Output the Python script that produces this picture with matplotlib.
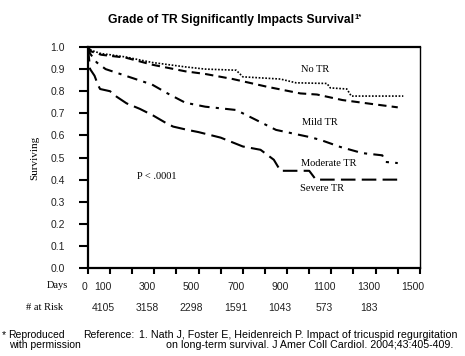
import matplotlib
matplotlib.use("Agg")
import matplotlib.pyplot as plt
from matplotlib.transforms import ScaledTranslation

# Kaplan-Meier curves (days, fraction surviving).
no_tr_days = [0, 15, 60, 100, 170, 290, 440, 530, 670, 700, 870, 940, 1080, 1095, 1170, 1190, 1425]
no_tr_surv = [1.0, 0.985, 0.97, 0.965, 0.955, 0.93, 0.91, 0.90, 0.895, 0.865, 0.855, 0.838, 0.835, 0.815, 0.81, 0.778, 0.778]

mild_days = [0, 15, 60, 100, 170, 290, 440, 530, 655, 810, 960, 1035, 1150, 1300, 1400]
mild_surv = [1.0, 0.98, 0.965, 0.96, 0.952, 0.92, 0.89, 0.878, 0.855, 0.82, 0.79, 0.785, 0.76, 0.74, 0.727]

mod_days = [0, 10, 40, 80, 170, 290, 360, 440, 530, 670, 780, 850, 1000, 1050, 1140, 1240, 1330, 1345, 1400]
mod_surv = [1.0, 0.97, 0.93, 0.90, 0.87, 0.83, 0.79, 0.748, 0.73, 0.715, 0.66, 0.625, 0.593, 0.58, 0.548, 0.52, 0.51, 0.48, 0.475]

sev_days = [0, 5, 10, 30, 45, 55, 100, 130, 175, 235, 295, 355, 385, 450, 500, 600, 650, 700, 780, 840, 870, 1000, 1030, 1410]
sev_surv = [1.0, 0.95, 0.90, 0.87, 0.83, 0.81, 0.80, 0.775, 0.745, 0.72, 0.69, 0.655, 0.64, 0.625, 0.615, 0.59, 0.57, 0.55, 0.535, 0.49, 0.44, 0.44, 0.40, 0.40]

# Number at risk below the x axis.
risk_days = [100, 300, 500, 700, 900, 1100, 1300]
risk_counts = [4105, 3158, 2298, 1591, 1043, 573, 183]

x_labels = ['0', '100', '', '300', '', '500', '', '700', '', '900', '', '1100', '', '1300', '', '1500']

sans = 'Liberation Sans'
serif = 'Liberation Serif'

fig = plt.figure(figsize=(4.65, 3.56), dpi=100)
ax = fig.add_axes([0.189, 0.247, 0.714, 0.621])

ax.plot(no_tr_days, no_tr_surv, color='black', lw=1.2, ls=(0, (1, 1)))
ax.plot(mild_days, mild_surv, color='black', lw=1.5, ls=(0, (4, 2.5)))
ax.plot(mod_days, mod_surv, color='black', lw=1.5, ls=(0, (5, 3, 1.5, 3)))
ax.plot(sev_days, sev_surv, color='black', lw=1.5, ls=(0, (7, 3)))

ax.set_xlim(0, 1500)
ax.set_ylim(0, 1.0)
ax.set_yticks([i / 10 for i in range(11)])
ax.set_yticklabels(['%.1f' % (i / 10) for i in range(11)], fontfamily=sans, fontsize=7.5, color='#222222')
ax.set_xticks(range(0, 1600, 100))
ax.set_xticklabels(x_labels, fontfamily=sans, fontsize=7.5, color='#222222')
ax.tick_params(axis='y', direction='out', length=6.5, width=1.5, pad=10)
ax.tick_params(axis='x', direction='out', length=4, width=1.5, pad=6)

# tick labels sit a little left of their ticks in the original
for i, lab in enumerate(ax.get_xticklabels()):
    dx = -0.035 if i == 0 else -0.07
    lab.set_transform(lab.get_transform() + ScaledTranslation(dx, 0, fig.dpi_scale_trans))

for side in ['left', 'bottom', 'top']:
    ax.spines[side].set_linewidth(1.6)
ax.spines['right'].set_linewidth(1.0)

ax.set_ylabel('Surviving', fontfamily=serif, fontsize=8, labelpad=8)

ax.text(1028, 0.896, 'No TR', fontfamily=serif, fontsize=7.5, ha='center', va='center')
ax.text(1046, 0.66, 'Mild TR', fontfamily=serif, fontsize=7.5, ha='center', va='center')
ax.text(1089, 0.475, 'Moderate TR', fontfamily=serif, fontsize=7.5, ha='center', va='center')
ax.text(1058, 0.362, 'Severe TR', fontfamily=serif, fontsize=7.5, ha='center', va='center')
ax.text(312, 0.416, 'P < .0001', fontfamily=serif, fontsize=7.5, ha='center', va='center')

# at-risk row
off = ScaledTranslation(-0.07, 0, fig.dpi_scale_trans)
for d, n in zip(risk_days, risk_counts):
    ax.text(d, -0.181, str(n), transform=ax.get_xaxis_transform() + off,
            fontfamily=sans, fontsize=7.5, ha='center', va='center', color='#222222')

fig.text(0.123, 0.197, 'Days', fontfamily=serif, fontsize=7.5, ha='center', va='center')
fig.text(0.095, 0.135, '# at Risk', fontfamily=serif, fontsize=7.5, ha='center', va='center')

title = fig.text(0.497, 0.944, 'Grade of TR Significantly Impacts Survival',
                 fontfamily=sans, fontsize=8.7, fontweight='bold', ha='center', va='center')
fig.add_artist(plt.Annotation('1*', xy=(1.0, 1.0), xycoords=title, fontfamily=sans,
                              fontsize=5.5, fontweight='bold', ha='left', va='top'))

fig.text(0.004, 0.059, '*', fontfamily=sans, fontsize=7.5, ha='left', va='center')
fig.text(0.017, 0.059, 'Reproduced', fontfamily=sans, fontsize=7.5, ha='left', va='center')
fig.text(0.019, 0.031, 'with permission', fontfamily=sans, fontsize=7.5, ha='left', va='center')
fig.text(0.290, 0.059, 'Reference:', fontfamily=sans, fontsize=7.5, ha='right', va='center')
fig.text(0.299, 0.059, '1. Nath J, Foster E, Heidenreich P. Impact of tricuspid regurgitation',
         fontfamily=sans, fontsize=7.7, ha='left', va='center')
fig.text(0.357, 0.031, 'on long-term survival. J Amer Coll Cardiol. 2004;43:405-409.',
         fontfamily=sans, fontsize=7.7, ha='left', va='center')

fig.savefig('out.png', dpi=100)
